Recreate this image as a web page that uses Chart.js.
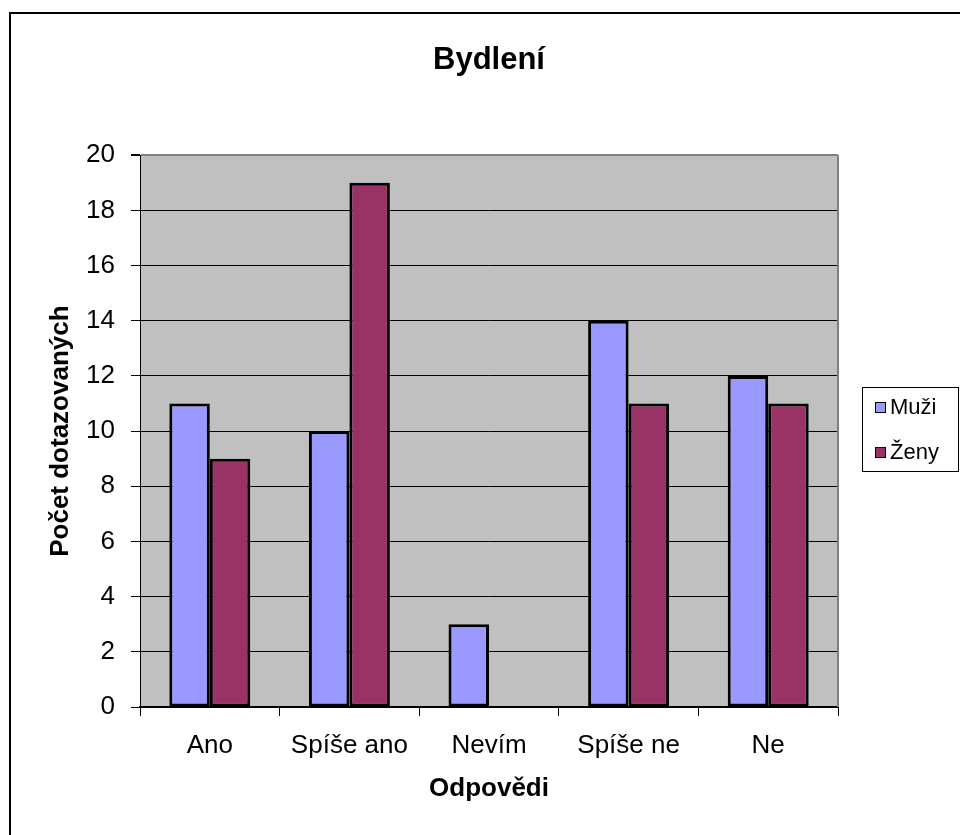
<!DOCTYPE html>
<html>
<head>
<meta charset="utf-8">
<script src="https://cdn.jsdelivr.net/npm/chart.js@4.4.0/dist/chart.umd.min.js"></script>
<style>
  html, body { margin: 0; padding: 0; background: #fff; }
  #wrap { width: 960px; height: 835px; }
</style>
</head>
<body>
<div id="wrap"><canvas id="myChart" width="960" height="835"></canvas></div>
<script>
var categories = ['Ano', 'Spíše ano', 'Nevím', 'Spíše ne', 'Ne'];
var muzi = [11, 10, 3, 14, 12];
var zeny = [9, 19, 0, 11, 11];
var seriesNames = ['Muži', 'Ženy'];
var seriesColors = ['#9999ff', '#993366'];
var yMin = 0, yMax = 20, yStep = 2;

var FONT = "'Liberation Sans', Arial, sans-serif";

// grey plot area + grey right edge
var plotBg = {
    id: 'plotBg',
    beforeDraw: function (chart) {
        var a = chart.chartArea, c = chart.ctx;
        c.save();
        c.fillStyle = '#c0c0c0';
        c.fillRect(a.left, a.top, a.right - a.left, a.bottom - a.top);
        c.restore();
    },
    beforeDatasetsDraw: function (chart) {
        var a = chart.chartArea, c = chart.ctx;
        c.save();
        c.strokeStyle = '#808080';
        c.lineWidth = 2;
        c.beginPath();
        c.moveTo(a.right, a.top);
        c.lineTo(a.right, a.bottom);
        c.stroke();
        c.restore();
    }
};

// legend box on the right and outer frame
var sideLegend = {
    id: 'sideLegend',
    afterDraw: function (chart) {
        var c = chart.ctx;
        var a = chart.chartArea;
        var x0 = a.right + 24, y0 = 387;
        c.save();
        c.strokeStyle = '#000';
        c.lineWidth = 1;
        c.strokeRect(x0 + 0.5, y0 + 0.5, 96, 84);
        c.font = '22px ' + FONT;
        c.textBaseline = 'middle';
        chart.data.datasets.forEach(function (ds, i) {
            var cy = y0 + 20 + i * 45;
            c.fillStyle = ds.backgroundColor;
            c.fillRect(x0 + 13, cy - 5, 10, 10);
            c.strokeRect(x0 + 13.5, cy - 4.5, 10, 10);
            c.fillStyle = '#000';
            c.fillText(ds.label, x0 + 28, cy + 1);
        });
        // outer chart frame (only top/left visible)
        c.lineWidth = 2;
        c.beginPath();
        c.moveTo(10, 840);
        c.lineTo(10, 13);
        c.lineTo(965, 13);
        c.stroke();
        c.restore();
    }
};

var ctx = document.getElementById('myChart');
var myBarChart = new Chart(ctx, {
    type: 'bar',
    data: {
        labels: categories,
        datasets: [
            {
                label: seriesNames[0],
                data: muzi,
                backgroundColor: seriesColors[0],
                borderColor: '#000',
                borderWidth: 3,
                borderSkipped: false
            },
            {
                label: seriesNames[1],
                data: zeny,
                backgroundColor: seriesColors[1],
                borderColor: '#000',
                borderWidth: 3,
                borderSkipped: false
            }
        ]
    },
    options: {
        responsive: false,
        animation: false,
        layout: { padding: { left: 0, top: 0, right: 122, bottom: 0 } },
        datasets: {
            bar: { categoryPercentage: 0.58, barPercentage: 1 }
        },
        plugins: {
            legend: { display: false },
            tooltip: { enabled: false },
            title: {
                display: true,
                text: 'Bydlení',
                fullSize: false,
                color: '#000',
                font: { family: FONT, size: 31, weight: 'bold' },
                padding: { top: 42, bottom: 76 }
            }
        },
        scales: {
            x: {
                afterFit: function (scale) { scale.height = 128; },
                grid: {
                    drawOnChartArea: false,
                    drawTicks: true,
                    tickLength: 9,
                    tickColor: '#000',
                    offset: true
                },
                border: { color: '#000', width: 2 },
                ticks: {
                    color: '#000',
                    font: { family: FONT, size: 26 },
                    padding: 14,
                    maxRotation: 0
                },
                title: {
                    display: true,
                    text: 'Odpovědi',
                    color: '#000',
                    font: { family: FONT, size: 26, weight: 'bold' },
                    padding: { top: 0, bottom: 31 }
                }
            },
            y: {
                min: yMin,
                max: yMax,
                afterFit: function (scale) { scale.width = 140; },
                grid: {
                    color: function (c) { return c.tick && c.tick.value === yMax ? '#808080' : '#000'; },
                    lineWidth: function (c) { return c.tick && c.tick.value === yMax ? 2 : 1; },
                    tickLength: 9,
                    tickColor: '#000'
                },
                border: { color: '#000', width: 1 },
                ticks: {
                    stepSize: yStep,
                    color: '#000',
                    font: { family: FONT, size: 26 },
                    padding: 16
                },
                title: {
                    display: true,
                    text: 'Počet dotazovaných',
                    color: '#000',
                    font: { family: FONT, size: 26, weight: 'bold' },
                    padding: { top: 45, bottom: 0 }
                }
            }
        }
    },
    plugins: [plotBg, sideLegend]
});
</script>
</body>
</html>
